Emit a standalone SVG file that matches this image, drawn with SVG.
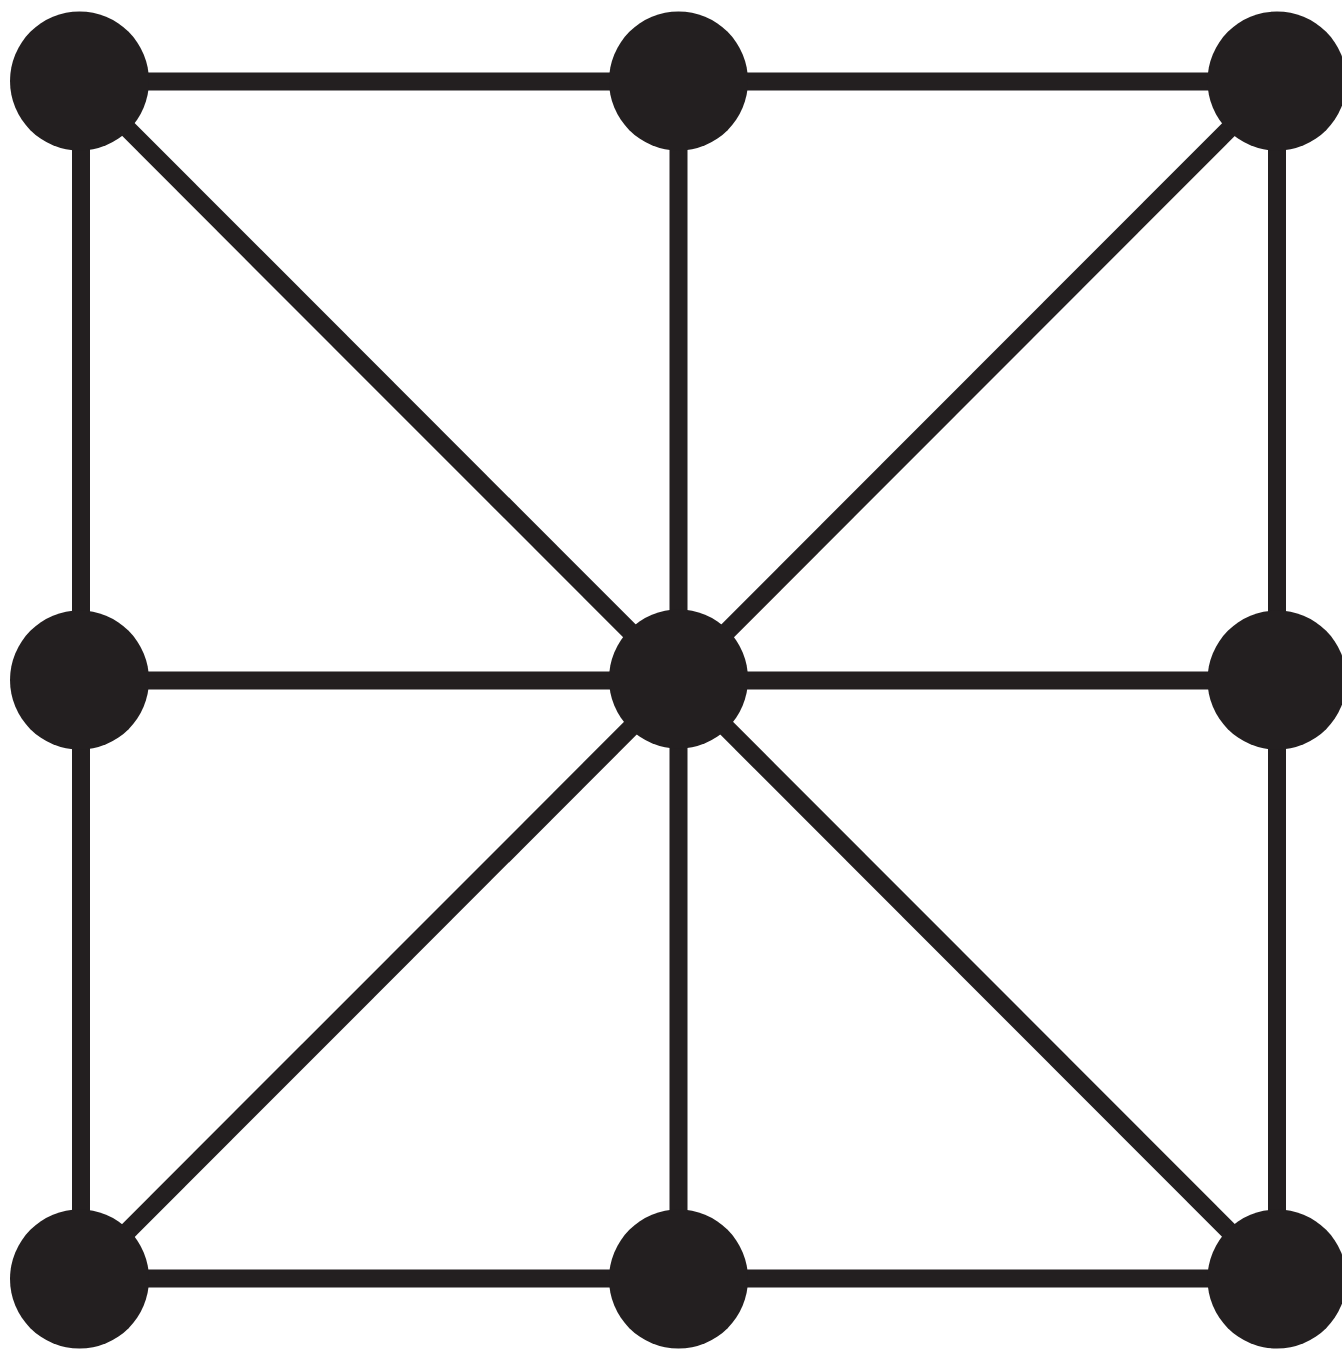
<svg xmlns="http://www.w3.org/2000/svg" width="1342" height="1349" viewBox="0 0 1342 1349">
<style>
.e{stroke:#231f20;stroke-width:18;fill:none}
.n{fill:#231f20}
</style>
<rect width="1342" height="1349" fill="#fff"/>
<g id="connectors">
<line class="e" x1="80" y1="81.5" x2="1277" y2="81.5"/>
<line class="e" x1="80" y1="680.5" x2="1277" y2="680.5"/>
<line class="e" x1="80" y1="1278.5" x2="1277" y2="1278.5"/>
<line class="e" x1="81" y1="81" x2="81" y2="1279"/>
<line class="e" x1="678.5" y1="81" x2="678.5" y2="1279"/>
<line class="e" x1="1277" y1="81" x2="1277" y2="1279"/>
<line class="e" x1="80" y1="81" x2="1277" y2="1279"/>
<line class="e" x1="1277" y1="81" x2="80" y2="1279"/>
</g>
<g id="n1"><circle class="n" cx="79.5" cy="81" r="69.5"/></g>
<g id="n2"><circle class="n" cx="678.5" cy="81" r="69.5"/></g>
<g id="n3"><circle class="n" cx="1277" cy="81" r="69.5"/></g>
<g id="n4"><circle class="n" cx="79.5" cy="680" r="69.5"/></g>
<g id="n5"><circle class="n" cx="678.5" cy="679" r="69.5"/></g>
<g id="n6"><circle class="n" cx="1277" cy="680" r="69.5"/></g>
<g id="n7"><circle class="n" cx="79.5" cy="1279" r="69.5"/></g>
<g id="n8"><circle class="n" cx="678.5" cy="1279" r="69.5"/></g>
<g id="n9"><circle class="n" cx="1277" cy="1279" r="69.5"/></g>
</svg>
